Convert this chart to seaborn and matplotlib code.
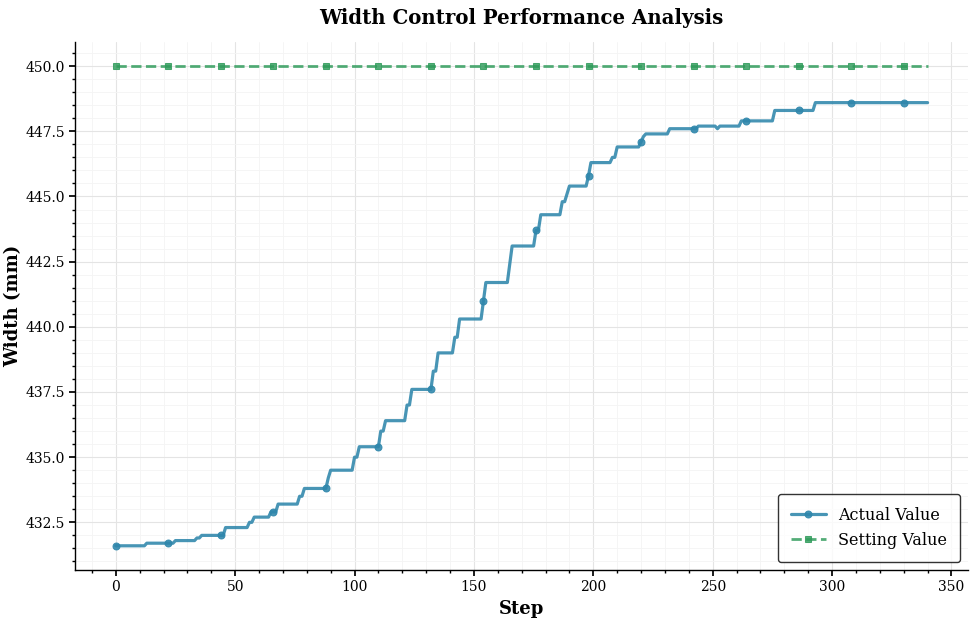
import numpy as np
import pandas as pd
import matplotlib
matplotlib.use("Agg")
import matplotlib.pyplot as plt
from matplotlib.ticker import MultipleLocator, FormatStrFormatter
import seaborn as sns

# Step levels of the actual width (mm) and how many steps each level lasts
actual_levels = [431.6, 431.7, 431.8, 431.9, 432.0, 432.3, 432.5, 432.7, 432.9,
                 433.2, 433.5, 433.8, 434.2, 434.5, 435.0, 435.4, 436.0, 436.4,
                 437.0, 437.6, 438.3, 439.0, 439.6, 440.3, 441.0, 441.7, 442.4,
                 443.1, 443.7, 444.3, 444.8, 445.1, 445.4, 445.8, 446.3, 446.5,
                 446.9, 447.1, 447.3, 447.4, 447.6, 447.7, 447.6, 447.7, 447.9,
                 448.3, 448.6]
level_durations = [13, 12, 9, 2, 10, 10, 2, 7, 3,
                   9, 2, 10, 1, 10, 2, 9, 2, 9,
                   2, 9, 2, 7, 2, 10, 1, 10, 1,
                   10, 2, 9, 2, 1, 8, 1, 9, 2,
                   10, 1, 1, 10, 12, 8, 1, 9, 14,
                   17, 48]
setting_value = 450.0
marker_every = 22

actual = np.repeat(actual_levels, level_durations)
steps = np.arange(len(actual))
setting = np.full(len(actual), setting_value)

df = pd.DataFrame({"Step": steps, "Actual": actual, "Setting": setting})

sns.set_theme(style="ticks")
plt.rcParams["font.family"] = ["DejaVu Serif"]
plt.rcParams["text.color"] = "black"
plt.rcParams["axes.labelcolor"] = "black"
plt.rcParams["xtick.color"] = "black"
plt.rcParams["ytick.color"] = "black"

fig, ax = plt.subplots(figsize=(9.76, 6.2), dpi=100)

blue = "#2E86AB"
green = "#2E9B5A"
sns.lineplot(data=df, x="Step", y="Actual", ax=ax, color=blue, linewidth=2.3,
             marker="o", markersize=5, markevery=marker_every, alpha=0.88,
             markeredgecolor=blue, markerfacecolor=blue,
             label="Actual Value")
sns.lineplot(data=df, x="Step", y="Setting", ax=ax, color=green, linewidth=2.0,
             linestyle="--", marker="s", markersize=5, markevery=marker_every,
             markeredgecolor=green, markerfacecolor=green,
             alpha=0.82, label="Setting Value")

ax.set_title("Width Control Performance Analysis", fontsize=14.2, fontweight="bold",
             pad=13, color="black")
ax.set_xlabel("Step", fontsize=13, fontweight="bold")
ax.set_ylabel("Width (mm)", fontsize=13, fontweight="bold", labelpad=2)

ax.xaxis.set_major_locator(MultipleLocator(50))
ax.xaxis.set_minor_locator(MultipleLocator(10))
ax.yaxis.set_major_locator(MultipleLocator(2.5))
ax.yaxis.set_minor_locator(MultipleLocator(0.5))
ax.yaxis.set_major_formatter(FormatStrFormatter("%.1f"))
ax.tick_params(axis="both", which="major", labelsize=10, length=4, color="black")
ax.tick_params(axis="both", which="minor", length=2, color="black")

ax.grid(True, which="major", color="#e4e4e4", linewidth=0.8)
ax.grid(True, which="minor", color="#f4f4f4", linewidth=0.6)
ax.set_axisbelow(True)

for side in ["top", "right"]:
    ax.spines[side].set_visible(False)
for side in ["left", "bottom"]:
    ax.spines[side].set_color("black")
    ax.spines[side].set_linewidth(1.0)

leg = ax.legend(loc="lower right", fontsize=11.5, frameon=True, fancybox=True,
                borderpad=0.8, handlelength=2.2)
leg.get_frame().set_edgecolor("black")
leg.get_frame().set_linewidth(1.0)

fig.subplots_adjust(left=0.077, right=0.992, top=0.932, bottom=0.081)
fig.savefig("out.png", dpi=100)
